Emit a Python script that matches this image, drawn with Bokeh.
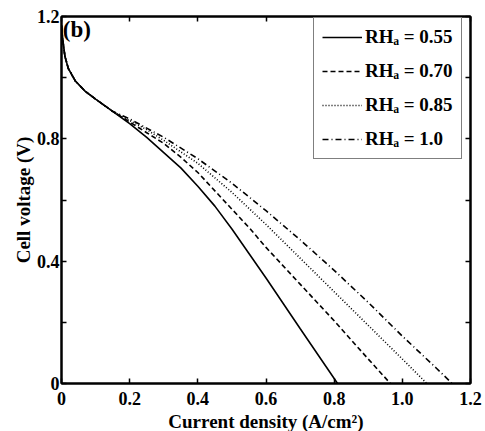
from bokeh.plotting import figure
from bokeh.models import (LinearAxis, FixedTicker, CustomJSTickFormatter, Legend,
                          LegendItem, Label, Range1d, CustomLabelingPolicy)
from bokeh.embed import file_html
from bokeh.resources import INLINE

# ---- data ----
i_common = [0.0, 0.003, 0.01, 0.02, 0.04, 0.07, 0.10, 0.15]
v_common = [1.17, 1.13, 1.07, 1.03, 0.99, 0.955, 0.93, 0.89]

i_055 = [0.2, 0.25, 0.3, 0.35, 0.4, 0.45, 0.5, 0.55, 0.6, 0.7, 0.81]
v_055 = [0.85, 0.805, 0.755, 0.705, 0.645, 0.58, 0.505, 0.425, 0.345, 0.18, 0.0]

i_070 = [0.2, 0.25, 0.3, 0.35, 0.4, 0.5, 0.554, 0.6, 0.7, 0.8, 0.9, 0.965]
v_070 = [0.855, 0.82, 0.785, 0.74, 0.69, 0.57, 0.505, 0.445, 0.325, 0.205, 0.08, 0.0]

i_085 = [0.2, 0.25, 0.3, 0.4, 0.5, 0.6, 0.7, 0.8, 0.9, 1.0, 1.072]
v_085 = [0.86, 0.83, 0.795, 0.72, 0.625, 0.52, 0.41, 0.30, 0.19, 0.08, 0.0]

i_100 = [0.2, 0.25, 0.3, 0.4, 0.5, 0.6, 0.7, 0.8, 0.9, 1.0, 1.1, 1.146]
v_100 = [0.865, 0.835, 0.805, 0.735, 0.655, 0.565, 0.47, 0.37, 0.265, 0.155, 0.05, 0.0]

labels = ["RH\u2090 = 0.55", "RH\u2090 = 0.70", "RH\u2090 = 0.85", "RH\u2090 = 1.0"]
x_ticks = [0, 0.2, 0.4, 0.6, 0.8, 1.0, 1.2]
y_ticks = [0, 0.4, 0.8, 1.2]
y_minor = [0.2, 0.6, 1.0]

FONT = "Liberation Serif"

p = figure(frame_width=409, frame_height=367, output_backend="svg",
           toolbar_location=None, x_range=Range1d(0, 1.2), y_range=Range1d(0, 1.2),
           x_axis_label="Current density (A/cm\u00b2)", y_axis_label="Cell voltage (V)",
           min_border_left=61, min_border_right=15, min_border_top=15, min_border_bottom=49)
p.grid.visible = False
p.background_fill_color = "white"
p.border_fill_color = "white"
p.outline_line_color = "black"
p.outline_line_width = 2

fmt = CustomJSTickFormatter(code="return tick == 0 ? '0' : tick.toFixed(1);")

for ax in p.xaxis:
    ax.ticker = FixedTicker(ticks=x_ticks)
    ax.formatter = fmt
for ax in p.yaxis:
    ax.ticker = FixedTicker(ticks=y_ticks, minor_ticks=y_minor)
    ax.formatter = fmt

for ax in list(p.xaxis) + list(p.yaxis):
    ax.axis_line_width = 2
    ax.major_tick_in = 5
    ax.major_tick_out = 0
    ax.minor_tick_in = 5
    ax.minor_tick_out = 0
    ax.major_tick_line_width = 1.5
    ax.minor_tick_line_width = 1.5
    ax.major_label_text_font = FONT
    ax.major_label_text_font_style = "bold"
    ax.major_label_text_font_size = "18px"
    ax.major_label_text_color = "black"
    ax.axis_label_text_font = FONT
    ax.axis_label_text_font_style = "bold"
    ax.axis_label_text_font_size = "19px"
    ax.axis_label_text_color = "black"
    ax.major_label_standoff = 2
    ax.axis_label_standoff = 0

p.xaxis[0].major_label_standoff = 8
p.xaxis[0].axis_label_standoff = 3

# top / right axes with ticks only
top = LinearAxis(ticker=FixedTicker(ticks=x_ticks),
                 major_label_policy=CustomLabelingPolicy(code="return new Set()"),
                 major_tick_in=5, major_tick_out=0, minor_tick_in=0, minor_tick_out=0,
                 axis_line_width=2, major_tick_line_width=1.5)
right = LinearAxis(ticker=FixedTicker(ticks=y_ticks, minor_ticks=y_minor),
                   major_label_policy=CustomLabelingPolicy(code="return new Set()"),
                   major_tick_in=5, major_tick_out=0, minor_tick_in=5, minor_tick_out=0,
                   axis_line_width=2, major_tick_line_width=1.5, minor_tick_line_width=1.5)
p.add_layout(top, "above")
p.add_layout(right, "right")

def full(ix, vx):
    return i_common + ix, v_common + vx

x1, y1 = full(i_055, v_055)
x2, y2 = full(i_070, v_070)
x3, y3 = full(i_085, v_085)
x4, y4 = full(i_100, v_100)

r1 = p.line(x1, y1, line_color="black", line_width=1.6)
r2 = p.line(x2, y2, line_color="black", line_width=1.6, line_dash="5 3")
r3 = p.line(x3, y3, line_color="black", line_width=1.6, line_dash="1 2")
r4 = p.line(x4, y4, line_color="black", line_width=1.6, line_dash="6 3 1 3")

legend = Legend(items=[LegendItem(label=labels[0], renderers=[r1]),
                       LegendItem(label=labels[1], renderers=[r2]),
                       LegendItem(label=labels[2], renderers=[r3]),
                       LegendItem(label=labels[3], renderers=[r4])],
                location=(252, 224))
legend.label_text_font = FONT
legend.label_text_font_style = "bold"
legend.label_text_font_size = "19px"
legend.label_text_color = "black"
legend.border_line_color = "black"
legend.border_line_width = 1.5
legend.glyph_width = 40
legend.glyph_height = 20
legend.label_height = 20
legend.spacing = 12
legend.padding = 8
legend.label_standoff = 3
legend.background_fill_alpha = 1
p.add_layout(legend, "center")

tag = Label(x=0.004, y=1.197, text="(b)", text_font=FONT, text_font_style="bold",
            text_font_size="23px", text_baseline="top", text_color="black")
p.add_layout(tag)

open("out.html", "w").write(file_html(p, INLINE))
